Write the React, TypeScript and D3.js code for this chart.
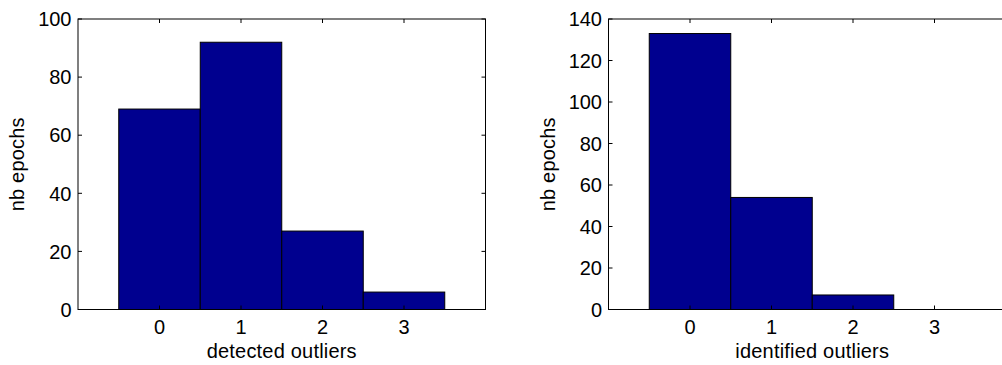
import React from "react";
import * as d3 from "d3";

const categories = [0, 1, 2, 3];
const detectedCounts = [69, 92, 27, 6];
const identifiedCounts = [133, 54, 7, 0];
const detectedYTicks = [0, 20, 40, 60, 80, 100];
const identifiedYTicks = [0, 20, 40, 60, 80, 100, 120, 140];
const xLabels = ["detected outliers", "identified outliers"];
const yLabel = "nb epochs";

const FONT = "Liberation Sans, Arial, Helvetica, sans-serif";
const BAR = "#00008F";

type PanelProps = {
  left: number;
  values: number[];
  yMax: number;
  yTicks: number[];
  xLabel: string;
};

function Panel({ left, values, yMax, yTicks, xLabel }: PanelProps) {
  const top = 19;
  const bottom = 309.5;
  const width = 407.5;
  const x = d3.scaleLinear().domain([-1, 4]).range([left, left + width]);
  const y = d3.scaleLinear().domain([0, yMax]).range([bottom, top]);
  const tl = 4;
  const right = left + width;
  return (
    <g>
      {values.map((v, i) => (
        <rect
          key={i}
          x={x(categories[i] - 0.5)}
          y={y(v)}
          width={x(categories[i] + 0.5) - x(categories[i] - 0.5)}
          height={Math.max(0, y(0) - y(v))}
          fill={BAR}
          stroke="#000"
          strokeWidth={1}
        />
      ))}
      <rect x={left} y={top} width={width} height={bottom - top} fill="none" stroke="#000" strokeWidth={1} />
      {categories.map((c) => (
        <g key={"xt" + c}>
          <line x1={x(c)} x2={x(c)} y1={bottom} y2={bottom - tl} stroke="#000" />
          <line x1={x(c)} x2={x(c)} y1={top} y2={top + tl} stroke="#000" />
          <text x={x(c)} y={333.5} textAnchor="middle" fontSize={20} fontFamily={FONT} fill="#000">
            {c}
          </text>
        </g>
      ))}
      {yTicks.map((t) => (
        <g key={"yt" + t}>
          <line x1={left} x2={left + tl} y1={y(t)} y2={y(t)} stroke="#000" />
          <line x1={right} x2={right - tl} y1={y(t)} y2={y(t)} stroke="#000" />
          <text x={left - 6.5} y={y(t)} dy="0.36em" textAnchor="end" fontSize={20} fontFamily={FONT} fill="#000">
            {t}
          </text>
        </g>
      ))}
      <text
        x={x(1.5)}
        y={358}
        textAnchor="middle"
        fontSize={20}
        letterSpacing={0.2}
        fontFamily={FONT}
        fill="#000"
      >
        {xLabel}
      </text>
      <text
        transform={`translate(${left - 61},${(top + bottom) / 2}) rotate(-90)`}
        textAnchor="middle"
        dy="0.36em"
        fontSize={20}
        letterSpacing={0.2}
        fontFamily={FONT}
        fill="#000"
      >
        {yLabel}
      </text>
    </g>
  );
}

export default function App() {
  return (
    <svg
      width={1002}
      height={365}
      style={{ position: "absolute", left: 0, top: 0, background: "#fff" }}
    >
      <rect width={1002} height={365} fill="#fff" />
      <Panel left={78} values={detectedCounts} yMax={100} yTicks={detectedYTicks} xLabel={xLabels[0]} />
      <Panel left={608.5} values={identifiedCounts} yMax={140} yTicks={identifiedYTicks} xLabel={xLabels[1]} />
    </svg>
  );
}
